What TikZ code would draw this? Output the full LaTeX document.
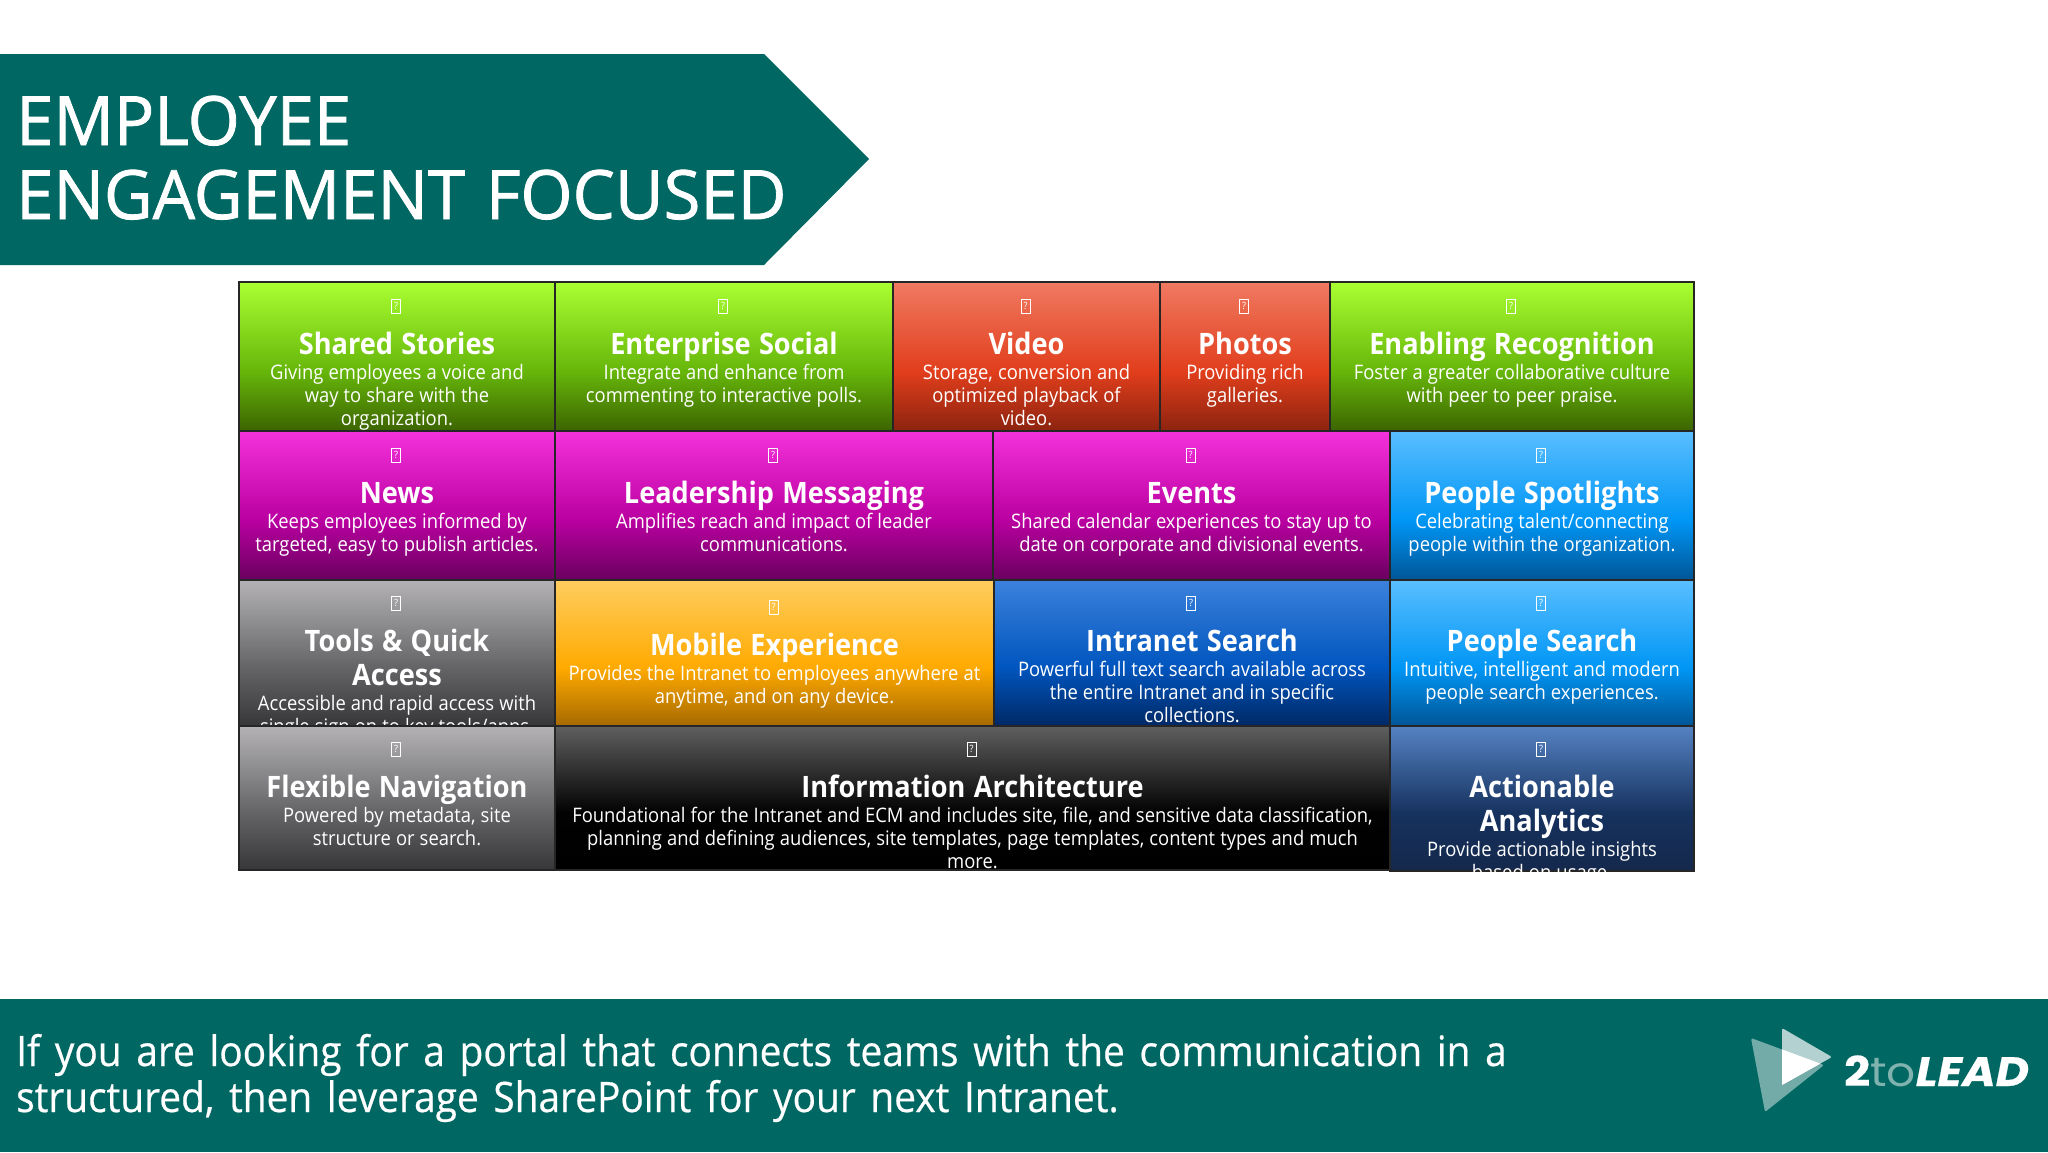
\documentclass[tikz,border=0pt]{standalone}
\usepackage{fontspec}
\setmainfont{Open Sans}[FakeStretch=0.92]
\newfontfamily\headfont{Open Sans}[FakeStretch=0.985,WordSpace=1.2,FakeBold=1.2]
\newfontfamily\footfont{Open Sans}[FakeStretch=0.925,WordSpace=1.45,FakeBold=0.5]
\newfontfamily\logofont{Poppins}[FakeStretch=1.11,BoldFeatures={FakeBold=0.5},BoldItalicFeatures={FakeBold=0.5}]
\usetikzlibrary{positioning,shapes.geometric}

\definecolor{tealbar}{RGB}{0,103,98}
% name, top, middle, bottom
\newcommand{\cellshade}[4]{
  \definecolor{#1t}{RGB}{#2}\definecolor{#1m}{RGB}{#3}\definecolor{#1b}{RGB}{#4}
  \pgfdeclareverticalshading{#1}{100bp}{color(0bp)=(#1b);color(25bp)=(#1b);color(45bp)=(#1m);color(75bp)=(#1t);color(100bp)=(#1t)}
  \tikzset{#1/.style={shade,shading=#1}}
}
\cellshade{greencell}{170,255,50}{102,182,10}{60,100,0}
\cellshade{redcell}{240,122,98}{225,62,28}{140,35,15}
\cellshade{magentacell}{245,50,220}{185,0,160}{105,0,95}
\cellshade{graycell}{180,178,180}{100,100,102}{55,55,58}
\cellshade{orangecell}{255,205,95}{255,170,0}{165,105,0}
\cellshade{skycell}{90,190,255}{0,150,245}{0,85,150}
\cellshade{bluecell}{60,130,220}{0,85,190}{0,40,100}
\cellshade{blackcell}{95,95,95}{2,2,2}{0,0,0}
\cellshade{navycell}{85,130,195}{22,50,95}{20,40,75}
\tikzset{
  cellbox/.style={draw=black!85,line width=1.6pt,inner sep=0pt,outer sep=0pt},
  iconbox/.style={draw=white,line width=0.5pt,inner sep=0pt,minimum width=9pt,minimum height=14pt,text=white,font=\fontsize{10}{10}\selectfont},
  celltext/.style={anchor=north,inner sep=0pt,align=center,text width=1200pt,text=white},
}
% offset, name, x1, y1, x2, y2, colour, title, description
\newcommand{\gridcell}[9][0]{
  \node[cellbox,#7,minimum width={(#5-#3)*1pt},minimum height={(#6-#4)*1pt}] (#2) at ({(#3+#5)/2},{(#4+#6)/2}) {};
  \begin{scope}
    \clip (#2.south west) rectangle (#2.north east);
    \node[iconbox] (#2icon) at ({(#3+#5)/2-1},{#4+24+#1}) {?};
    \node[celltext] (#2text) at ({(#3+#5)/2},{#4+48+#1}) {{\fontsize{29.5}{34}\selectfont\bfseries\spaceskip=0.28em\rule{0pt}{24pt}#8\par}\vspace{2pt}{\fontsize{20}{23}\selectfont\spaceskip=0.255em #9\par}};
  \end{scope}
}

\begin{document}
\begin{tikzpicture}[x=1pt,y=-1pt]
\useasboundingbox (0,0) rectangle (2048,1152);
\fill[white] (0,0) rectangle (2048,1152);

\fill[tealbar] (0,54) -- (764,54) -- (869,159) -- (764,265) -- (0,265) -- cycle;
\node[anchor=base west,inner sep=0pt,text=white,font=\headfont\fontsize{68}{74}\selectfont] (headA) at (16,145) {EMPLOYEE};
\node[anchor=base west,inner sep=0pt,text=white,font=\headfont\fontsize{68}{74}\selectfont] (headB) at (16,219) {ENGAGEMENT FOCUSED};

\gridcell{stories}{239}{282}{555}{431}{greencell}{Shared Stories}{Giving employees a voice and\\way to share with the\\organization.}
\gridcell{social}{555}{282}{893}{431}{greencell}{Enterprise Social}{Integrate and enhance from\\commenting to interactive polls.}
\gridcell{video}{893}{282}{1160}{431}{redcell}{Video}{Storage, conversion and\\optimized playback of\\video.}
\gridcell{photos}{1160}{282}{1330}{431}{redcell}{Photos}{Providing rich\\galleries.}
\gridcell{recognition}{1330}{282}{1694}{431}{greencell}{Enabling Recognition}{Foster a greater collaborative culture\\with peer to peer praise.}

\gridcell{news}{239}{431}{555}{580}{magentacell}{News}{Keeps employees informed by\\targeted, easy to publish articles.}
\gridcell{leadership}{555}{431}{993}{580}{magentacell}{Leadership Messaging}{Amplifies reach and impact of leader\\communications.}
\gridcell{events}{993}{431}{1390}{580}{magentacell}{Events}{Shared calendar experiences to stay up to\\date on corporate and divisional events.}
\gridcell{spotlights}{1390}{431}{1694}{580}{skycell}{People Spotlights}{Celebrating talent/connecting\\people within the organization.}

\gridcell[-1]{tools}{239}{580}{555}{726}{graycell}{Tools \& Quick\\Access}{Accessible and rapid access with\\single sign on to key tools/apps.}
\gridcell[3]{mobile}{555}{580}{994}{726}{orangecell}{Mobile Experience}{Provides the Intranet to employees anywhere at\\anytime, and on any device.}
\gridcell[-1]{search}{994}{580}{1390}{726}{bluecell}{Intranet Search}{Powerful full text search available across\\the entire Intranet and in specific\\collections.}
\gridcell[-1]{peoplesearch}{1390}{580}{1694}{726}{skycell}{People Search}{Intuitive, intelligent and modern\\people search experiences.}

\gridcell[-1]{navigation}{239}{726}{555}{870}{graycell}{Flexible Navigation}{Powered by metadata, site\\structure or search.}
\gridcell[-1]{architecture}{555}{726}{1390}{870}{blackcell}{Information Architecture}{Foundational for the Intranet and ECM and includes site, file, and sensitive data classification,\\planning and defining audiences, site templates, page templates, content types and much\\more.}
\gridcell[-1]{analytics}{1390}{726}{1694}{871}{navycell}{Actionable\\Analytics}{Provide actionable insights\\based on usage.}

\fill[tealbar] (0,999) rectangle (2048,1152);
\node[anchor=base west,inner sep=0pt,text=white,font=\footfont\fontsize{42}{46}\selectfont] (footA) at (16,1066) {If you are looking for a portal that connects teams with the communication in a};
\node[anchor=base west,inner sep=0pt,text=white,font=\footfont\fontsize{42}{46}\selectfont] (footB) at (16,1112) {structured, then leverage SharePoint for your next Intranet.};

\fill[white,opacity=0.45,rounded corners=2pt] (1751,1038) -- (1765,1112) -- (1824,1065) -- cycle;
\fill[white,opacity=0.7,rounded corners=2pt] (1782,1028) -- (1832,1057) -- (1782,1085) -- cycle;
\begin{scope}
\clip (1782,1028) -- (1832,1057) -- (1782,1085) -- cycle;
\fill[white] (1751,1038) -- (1765,1112) -- (1824,1065) -- cycle;
\end{scope}
\node[anchor=base west,inner sep=0pt,text=white,font=\logofont\fontsize{41}{41}\selectfont] (logo) at (1844,1086) {\textbf{2}{\color{white!50!tealbar}to}\textbf{\textit{LEAD}}};
\end{tikzpicture}
\end{document}
